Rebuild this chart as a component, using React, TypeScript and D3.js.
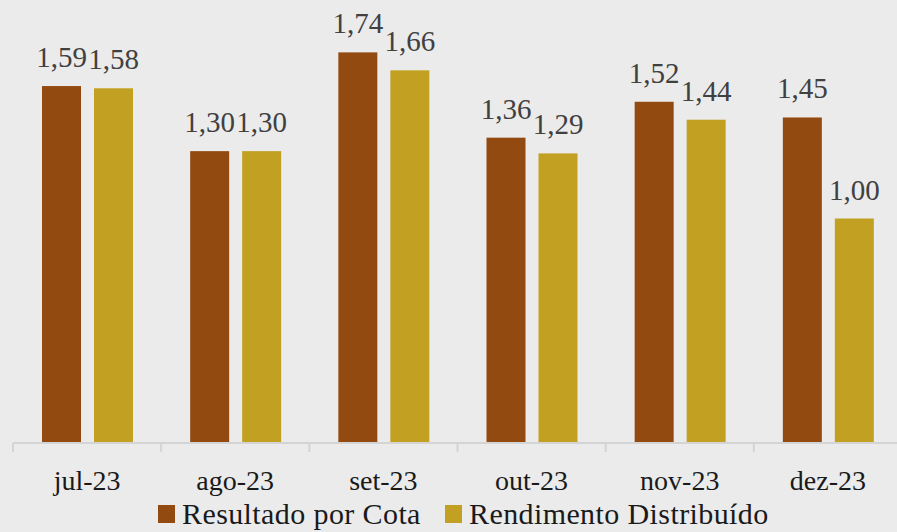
import React from "react";
import * as d3 from "d3";

const categories = ["jul-23", "ago-23", "set-23", "out-23", "nov-23", "dez-23"];
const resultado = [1.59, 1.3, 1.74, 1.36, 1.52, 1.45];
const rendimento = [1.58, 1.3, 1.66, 1.29, 1.44, 1.0];
const seriesNames = ["Resultado por Cota", "Rendimento Distribuído"];
const colors = ["#934a10", "#c2a021"];

const W = 897;
const H = 532;
const FONT = "Liberation Serif, DejaVu Serif, serif";

export default function App() {
  const x = d3.scaleBand<string>().domain(categories).range([13, 902]);
  const y = d3.scaleLinear().domain([0, 2]).range([443, -6]);
  const fmt = (v: number) => v.toFixed(2).replace(".", ",");
  const bw = 39;
  const off1 = 29;
  const off2 = 81;
  const series = [resultado, rendimento];
  const legendX = [158, 445];
  return (
    <svg width={W} height={H} style={{ position: "absolute", left: 0, top: 0, background: "#ebebeb" }}>
      <rect x={0} y={0} width={W} height={H} fill="#ebebeb" />
      {series.map((vals, si) =>
        vals.map((v, i) => {
          const bx = (x(categories[i]) as number) + (si === 0 ? off1 : off2);
          return (
            <g key={`${si}-${i}`}>
              <rect x={bx} y={y(v)} width={bw} height={y(0) - y(v)} fill={colors[si]} />
              <text
                x={bx + bw / 2}
                y={y(v) - 19}
                textAnchor="middle"
                style={{ fontFamily: FONT }}
                fontSize={29}
                fill="#404040"
              >
                {fmt(v)}
              </text>
            </g>
          );
        })
      )}
      <line x1={13} x2={W} y1={443} y2={443} stroke="#d4d4d4" strokeWidth={2} />
      {categories.map((c) => (
        <line key={c} x1={x(c) as number} x2={x(c) as number} y1={443} y2={452} stroke="#d4d4d4" strokeWidth={2} />
      ))}
      {categories.map((c) => (
        <text
          key={c + "t"}
          x={(x(c) as number) + x.bandwidth() / 2}
          y={490}
          textAnchor="middle"
          style={{ fontFamily: FONT }}
          fontSize={28}
          fill="#1a1a1a"
        >
          {c}
        </text>
      ))}
      {seriesNames.map((n, i) => {
        const lx = legendX[i];
        return (
          <g key={n}>
            <rect x={lx} y={505} width={17} height={18} fill={colors[i]} />
            <text
              x={lx + 24}
              y={524}
              style={{ fontFamily: FONT, letterSpacing: "0.4px" }}
              fontSize={30}
              fill="#1a1a1a"
            >
              {n}
            </text>
          </g>
        );
      })}
    </svg>
  );
}
